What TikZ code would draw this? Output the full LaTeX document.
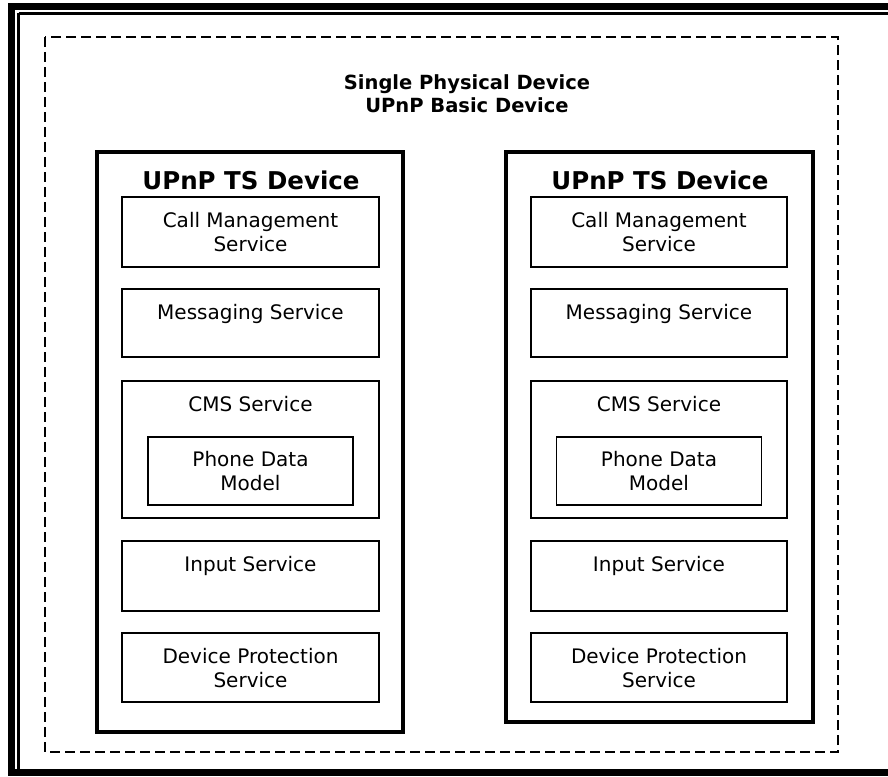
\documentclass[tikz,border=0pt]{standalone}
\usepackage{fontspec}
\setmainfont{DejaVu Sans}
\begin{document}
\begin{tikzpicture}[x=1pt, y=-1pt, dev node/.style={rectangle,draw,line width=4pt,inner sep=0pt}, svc node/.style={rectangle,draw,line width=1.8pt,inner sep=0pt}, svc text/.style={anchor=north,yshift=-16pt,inner sep=0pt,align=center,font=\fontsize{20}{24}\selectfont}]%
\useasboundingbox (0,0) rectangle (888,776);
% page frame
\fill (8,3) rectangle (888,10);
\fill (8,3) rectangle (15,776);
\fill (8,769) rectangle (888,776);
\draw[line width=2.5pt] (18.5,13.5) -- (888,13.5);
\draw[line width=2.5pt] (18.5,13.5) -- (18.5,769);
\draw[line width=2pt, dash pattern=on 10pt off 5pt] (45,37) rectangle (838,752);
\begin{scope}[every node/.style={font=\bfseries\fontsize{19.5}{23}\selectfont, align=center}]
\node (top) at (467,94) {Single Physical Device\\UPnP Basic Device};
\node (t1) at (251,180) {\fontsize{24.5}{28}\selectfont UPnP TS Device};
\node (t2) at (660,180) {\fontsize{24.5}{28}\selectfont UPnP TS Device};
\end{scope}
% left device
\node[dev node, minimum width=306pt, minimum height=580pt] (d1) at (250,442) {};
\node[svc node, minimum width=257pt, minimum height=70pt, label={[svc text]north:Call Management\\Service}] (cm1) at (250.5,232) {};
\node[svc node, minimum width=257pt, minimum height=68pt, label={[svc text]north:Messaging Service}] (ms1) at (250.5,323) {};
\node[svc node, minimum width=257pt, minimum height=137pt, label={[svc text]north:CMS Service}] (cms1) at (250.5,449.5) {};
\node[svc node, minimum width=205pt, minimum height=68pt, label={[svc text,yshift=1pt]north:Phone Data\\Model}] (pd1) at (250.5,471) {};
\node[svc node, minimum width=257pt, minimum height=70pt, label={[svc text]north:Input Service}] (in1) at (250.5,576) {};
\node[svc node, minimum width=257pt, minimum height=69pt, label={[svc text]north:Device Protection\\Service}] (dp1) at (250.5,667.5) {};
% right device
\node[dev node, minimum width=307pt, minimum height=570pt] (d2) at (659.5,437) {};
\node[svc node, minimum width=256pt, minimum height=70pt, label={[svc text]north:Call Management\\Service}] (cm2) at (659,232) {};
\node[svc node, minimum width=256pt, minimum height=68pt, label={[svc text]north:Messaging Service}] (ms2) at (659,323) {};
\node[svc node, minimum width=256pt, minimum height=137pt, label={[svc text]north:CMS Service}] (cms2) at (659,449.5) {};
\node[svc node, minimum width=205pt, minimum height=68pt, label={[svc text,yshift=1pt]north:Phone Data\\Model}] (pd2) at (659,471) {};
\node[svc node, minimum width=256pt, minimum height=70pt, label={[svc text]north:Input Service}] (in2) at (659,576) {};
\node[svc node, minimum width=256pt, minimum height=69pt, label={[svc text]north:Device Protection\\Service}] (dp2) at (659,667.5) {};
\end{tikzpicture}
\end{document}
